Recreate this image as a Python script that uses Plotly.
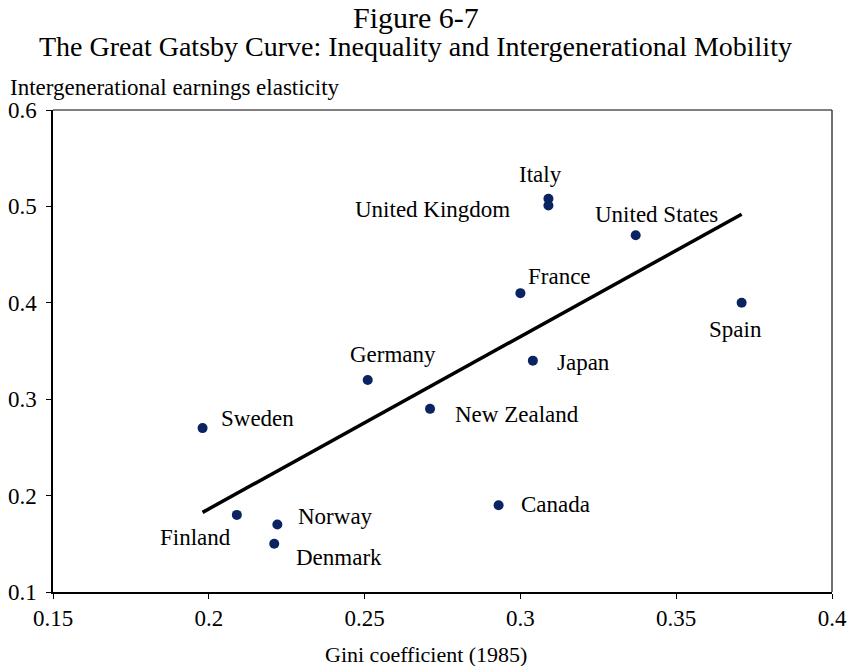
import numpy as np
import plotly.graph_objects as go

# Gini coefficient (1985) and intergenerational earnings elasticity by country
countries = ["Sweden", "Finland", "Norway", "Denmark", "Germany", "New Zealand",
             "Canada", "Japan", "France", "Italy", "United Kingdom",
             "United States", "Spain"]
gini = [0.198, 0.209, 0.222, 0.221, 0.251, 0.271, 0.293, 0.304, 0.300,
        0.309, 0.309, 0.337, 0.371]
elasticity = [0.27, 0.18, 0.17, 0.15, 0.32, 0.29, 0.19, 0.34, 0.41,
              0.508, 0.501, 0.47, 0.40]

x_ticks = [0.15, 0.2, 0.25, 0.3, 0.35, 0.4]
x_tick_labels = ["0.15", "0.2", "0.25", "0.3", "0.35", "0.4"]
y_ticks = [0.1, 0.2, 0.3, 0.4, 0.5, 0.6]
y_tick_labels = ["0.1", "0.2", "0.3", "0.4", "0.5", "0.6"]

# label placement relative to each marker, in pixels (dx, dy upward)
label_offsets = {
    "Italy": (-8, 24), "United Kingdom": (-116, -4), "United States": (21, 21),
    "France": (39, 17), "Spain": (-6, -27), "Germany": (25, 25),
    "Japan": (51, -2), "Sweden": (55, 10), "New Zealand": (87, -6),
    "Canada": (57, 1), "Norway": (58, 8), "Finland": (-41, -23),
    "Denmark": (65, -14),
}

FONT = "Liberation Serif, Times New Roman, serif"
MARKER = "#0b2461"

# least-squares fit line across the range of the data
slope, intercept = np.polyfit(gini, elasticity, 1)
fit_x = np.array([min(gini), max(gini)])
fit_y = slope * fit_x + intercept

fig = go.Figure()
fig.add_trace(go.Scatter(x=fit_x, y=fit_y, mode="lines",
                         line=dict(color="black", width=3.5),
                         hoverinfo="skip", showlegend=False))
fig.add_trace(go.Scatter(x=gini, y=elasticity, mode="markers",
                         marker=dict(color=MARKER, size=10),
                         text=countries, showlegend=False))

for name, gx, ey in zip(countries, gini, elasticity):
    dx, dy = label_offsets[name]
    fig.add_annotation(x=gx, y=ey, xref="x", yref="y", text=name,
                       showarrow=False, xshift=dx, yshift=dy,
                       font=dict(family=FONT, size=23, color="black"))

# titles
fig.add_annotation(x=0.466, y=1.191, xref="paper", yref="paper",
                   xanchor="center", yanchor="middle",
                   text="Figure 6-7", showarrow=False,
                   font=dict(family=FONT, size=30, color="black"))
fig.add_annotation(x=0.465, y=1.131, xref="paper", yref="paper",
                   xanchor="center", yanchor="middle",
                   text="The Great Gatsby Curve: Inequality and Intergenerational Mobility",
                   showarrow=False,
                   font=dict(family=FONT, size=28, color="black"))
fig.add_annotation(x=-0.058, y=1.047, xref="paper", yref="paper",
                   xanchor="left", yanchor="middle",
                   text="Intergenerational earnings elasticity",
                   showarrow=False,
                   font=dict(family=FONT, size=23, color="black"))
fig.add_annotation(x=0.479, y=-0.130, xref="paper", yref="paper",
                   xanchor="center", yanchor="middle",
                   text="Gini coefficient (1985)", showarrow=False,
                   font=dict(family=FONT, size=22, color="black"))

# frame on top and right
fig.add_shape(type="line", xref="paper", yref="paper", x0=0, x1=1, y0=1, y1=1,
              line=dict(color="#7f7f7f", width=2))
fig.add_shape(type="line", xref="paper", yref="paper", x0=1, x1=1, y0=0, y1=1,
              line=dict(color="#404040", width=1.5))

fig.update_layout(
    width=853, height=666,
    margin=dict(l=53, r=21, t=110, b=74),
    plot_bgcolor="white", paper_bgcolor="white",
    font=dict(family=FONT, color="black"),
    xaxis=dict(range=[0.15, 0.4], tickvals=x_ticks, ticktext=x_tick_labels,
               showgrid=False, zeroline=False, showline=True,
               linecolor="black", linewidth=1.5, ticks="outside",
               ticklen=5, tickcolor="black", automargin=False,
               tickfont=dict(family=FONT, size=23)),
    yaxis=dict(range=[0.1, 0.6], tickvals=y_ticks, ticktext=y_tick_labels,
               showgrid=False, zeroline=False, showline=True,
               linecolor="black", linewidth=1.5, ticks="outside",
               ticklen=5, tickcolor="black", ticklabelstandoff=5,
               automargin=False,
               tickfont=dict(family=FONT, size=23)),
)

fig.write_html("out.html")
